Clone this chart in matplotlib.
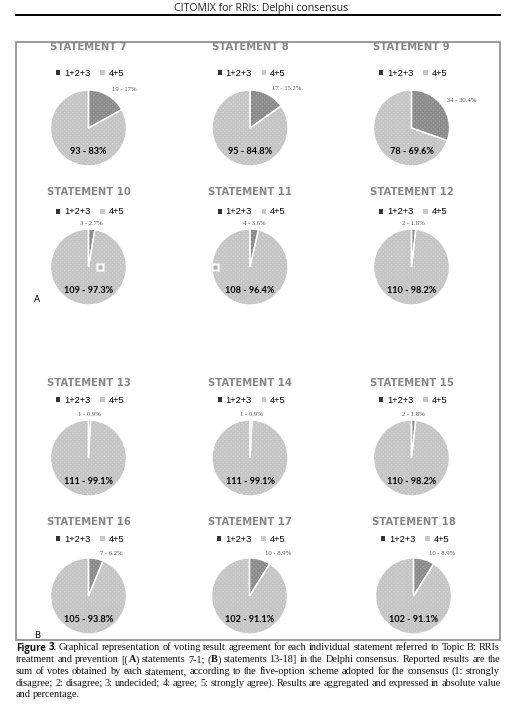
import numpy as np
import matplotlib
matplotlib.use("Agg")
import matplotlib.pyplot as plt
from matplotlib.patches import Rectangle, Patch

# 数据
statements = [7, 8, 9, 10, 11, 12, 13, 14, 15, 16, 17, 18]
low_votes = [19, 17, 34, 3, 4, 2, 1, 1, 2, 7, 10, 10]          # 1+2+3
high_votes = [93, 95, 78, 109, 108, 110, 111, 111, 110, 105, 102, 102]  # 4+5
low_pct = ['17%', '15.2%', '30.4%', '2.7%', '3.6%', '1.8%',
           '0.9%', '0.9%', '1.8%', '6.2%', '8.9%', '8.9%']
high_pct = ['83%', '84.8%', '69.6%', '97.3%', '96.4%', '98.2%',
            '99.1%', '99.1%', '98.2%', '93.8%', '91.1%', '91.1%']
legend_labels = ['1+2+3', '4+5']

W, H = 522, 704
fig = plt.figure(figsize=(W / 100, H / 100), dpi=100)
page = fig.add_axes([0, 0, 1, 1])
page.set_xlim(0, W)
page.set_ylim(H, 0)
page.axis('off')

# 页眉和边框
page.text(261, 8, 'CITOMIX for RRIs: Delphi consensus', ha='center', va='center',
          fontsize=7.6, family='Open Sans', color='#222222')
page.plot([16, 500], [15, 15], color='black', lw=1.4)
page.add_patch(Rectangle((16, 42), 484, 598, fill=False, edgecolor='#8a8a8a', lw=1.2))
page.text(37, 300, 'A', ha='center', va='center', fontsize=6.5, family='DejaVu Sans')
page.text(37, 636, 'B', ha='center', va='center', fontsize=6.5, family='DejaVu Sans')

# 每行布局 (像素)
col_x = [[88.5, 250, 411.5], [88.5, 250, 411.5], [88.5, 250, 411.5], [88.5, 249.5, 413.5]]
title_y = [47, 192, 383, 522]
legend_y = [73, 212, 400, 539]
pie_y = [128, 267, 458, 596]
r = 38

dark, light = '#a3a3a3', '#d3d3d3'
# statement 10, 11 上残留的小方块 (饼图内坐标)
stray = {10: (0.3, 0.0), 11: (-0.92, 0.0)}

for i, st in enumerate(statements):
    row, col = i // 3, i % 3
    cx, cy = col_x[row][col], pie_y[row]
    page.text(cx, title_y[row], 'STATEMENT %d' % st, ha='center', va='center',
              fontsize=7.2, weight='bold', family='DejaVu Sans', color='#858585')

    ax = fig.add_axes([(cx - r) / W, 1 - (cy + r) / H, 2 * r / W, 2 * r / H])
    vals = [low_votes[i], high_votes[i]]
    wedges, _ = ax.pie(vals, startangle=90, counterclock=False, colors=[dark, light],
                       wedgeprops=dict(linewidth=0))
    wedges[0].set_hatch('xxxxxxxx')
    wedges[0].set_edgecolor('#8a8a8a')
    wedges[1].set_hatch('xxxxxxxx')
    wedges[1].set_edgecolor('#c4c4c4')
    # 白色分隔线
    ax.pie(vals, startangle=90, counterclock=False, colors=['none', 'none'],
           wedgeprops=dict(linewidth=1.0, edgecolor='white'))
    ax.set_xlim(-1, 1)
    ax.set_ylim(-1, 1)

    # 小扇区标签
    w0 = wedges[0]
    mid = np.deg2rad((w0.theta1 + w0.theta2) / 2)
    frac = low_votes[i] / sum(vals)
    if frac < 0.05:
        lx, ha = np.cos(mid), 'center'
    else:
        lx, ha = np.cos(mid) + 0.12, 'left'
    ly = np.sin(mid) + 0.08
    ax.text(lx, ly, '%d - %s' % (low_votes[i], low_pct[i]), ha=ha, va='bottom',
            fontsize=4.8, family='Liberation Serif', color='#555555')
    ax.text(0, -0.62, '%d - %s' % (high_votes[i], high_pct[i]), ha='center', va='center',
            fontsize=6.6, weight='bold', family='Lato', color='black')

    if st in stray:
        sx, sy = stray[st]
        ax.plot(sx, sy, marker='s', ms=5.5, mfc='white', mec='#e6e6e6', mew=0.5, clip_on=False)
        ax.plot(sx, sy, marker='s', ms=2.6, mfc='#b0b0b0', mec='none', clip_on=False)

    # 图例
    handles = [Patch(facecolor='#333333', edgecolor='none'),
               Patch(facecolor='#c8c8c8', edgecolor='none')]
    ax.legend(handles, legend_labels, loc='center', ncol=2, frameon=False,
              bbox_to_anchor=((cx + 1.5) / W, 1 - legend_y[row] / H),
              bbox_transform=fig.transFigure,
              prop=dict(family='Liberation Sans', size=6.7),
              handlelength=0.45, handleheight=0.45, handletextpad=0.4,
              columnspacing=1.1, borderpad=0)

# 图注
serif = dict(family='Liberation Serif', fontsize=7.35, color='#111111')
serif_b = dict(serif, weight='bold')
lines = [
    [('Figure 3.', dict(family='Open Sans', weight='bold', fontsize=6.9, color='#111111')),
     (' Graphical representation of voting result agreement for each individual statement referred to Topic B: RRIs', serif)],
    [('treatment and prevention [(', serif), ('A', serif_b), (') statements 7-1; (', serif),
     ('B', serif_b), (') statements 13-18] in the Delphi consensus. Reported results are the', serif)],
    [('sum of votes obtained by each statement, according to the five-option scheme adopted for the consensus (1: strongly', serif)],
    [('disagree; 2: disagree; 3: undecided; 4: agree; 5: strongly agree). Results are aggregated and expressed in absolute value', serif)],
    [('and percentage.', serif)],
]
cap_y = [648, 659.7, 671.4, 683.1, 694.8]
renderer = fig.canvas.get_renderer()
x0, x1 = 16, 500
for li, segs in enumerate(lines):
    # 按空格切词，相邻片段没有空格时并到同一个词
    words = [[]]
    for txt, props in segs:
        pieces = txt.split(' ')
        for k, pc in enumerate(pieces):
            if k > 0 and words[-1]:
                words.append([])
            if pc:
                words[-1].append((pc, props))
    words = [w for w in words if w]
    groups, widths = [], []
    for wd in words:
        grp, wsum = [], 0
        for txt, props in wd:
            t = page.text(0, cap_y[li], txt, ha='left', va='center', **props)
            bw = t.get_window_extent(renderer).width
            grp.append((t, bw))
            wsum += bw
        groups.append(grp)
        widths.append(wsum)
    n = len(groups)
    if li < len(lines) - 1 and n > 1:
        gap = max((x1 - x0 - sum(widths)) / (n - 1), 1.6)
    else:
        gap = 2.0
    x = x0
    for grp, wsum in zip(groups, widths):
        xx = x
        for t, bw in grp:
            t.set_x(xx)
            xx += bw
        x += wsum + gap

plt.savefig('out.png', dpi=100)
